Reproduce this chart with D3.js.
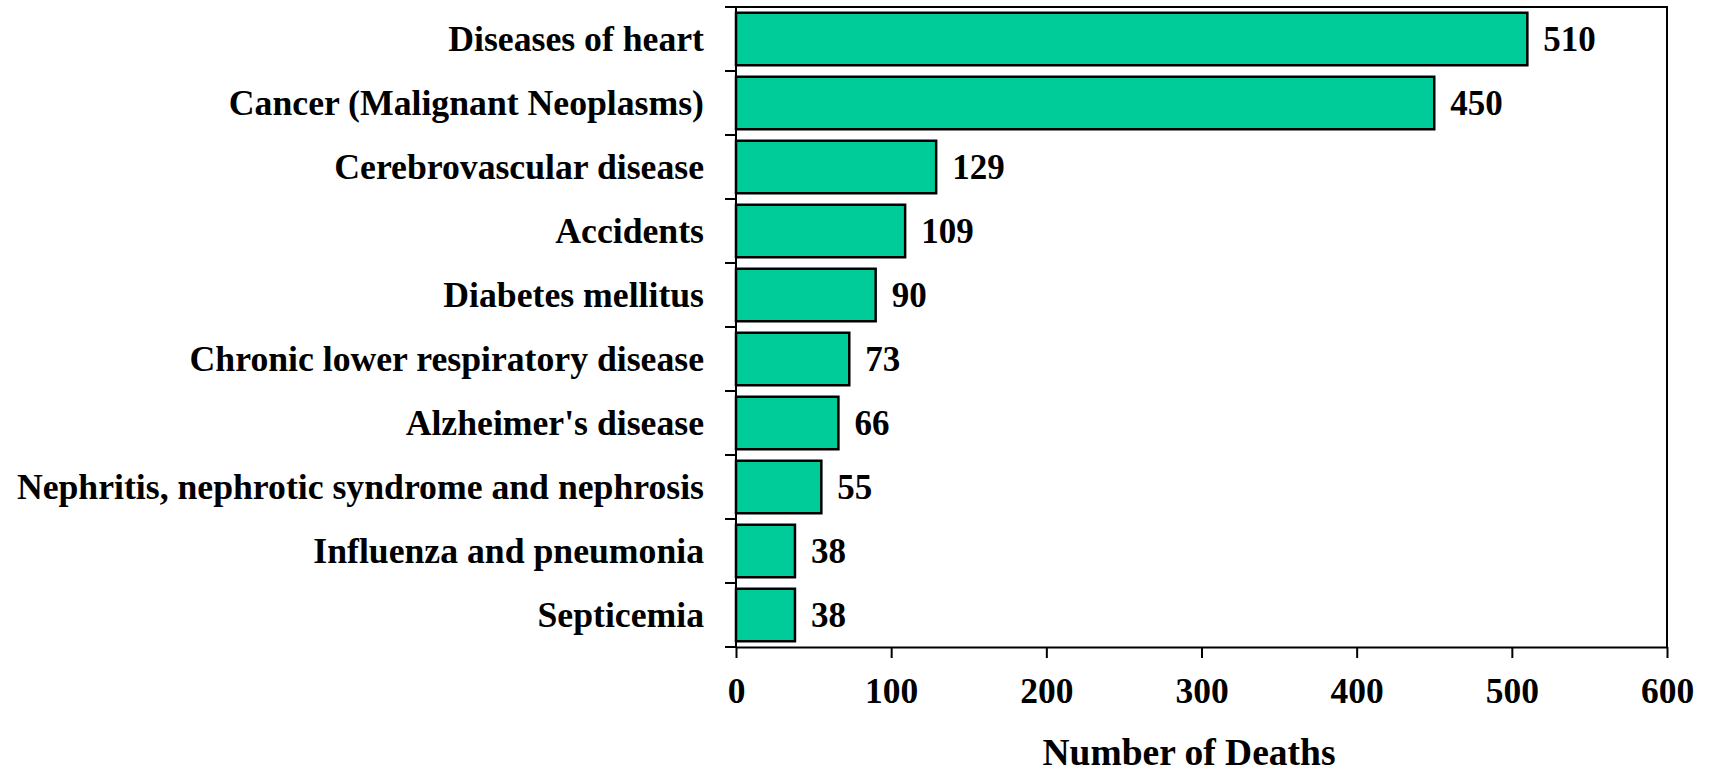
<!DOCTYPE html>
<html>
<head>
<meta charset="utf-8">
<script src="https://cdn.jsdelivr.net/npm/d3@7"></script>
<style>
  body { margin: 0; background: #fff; }
  text { font-family: "Liberation Serif", "Times New Roman", serif; font-weight: bold; fill: #000; }
</style>
</head>
<body>
<svg id="chart"></svg>
<script>
const causes = [
  "Diseases of heart",
  "Cancer (Malignant Neoplasms)",
  "Cerebrovascular disease",
  "Accidents",
  "Diabetes mellitus",
  "Chronic lower respiratory disease",
  "Alzheimer's disease",
  "Nephritis, nephrotic syndrome and nephrosis",
  "Influenza and pneumonia",
  "Septicemia"
];
const deaths = [510, 450, 129, 109, 90, 73, 66, 55, 38, 38];
const xTicks = [0, 100, 200, 300, 400, 500, 600];

const width = 1711;
const height = 774;
const plotLeft = 736;
const plotRight = 1667;
const plotTop = 7;
const plotBottom = 647;

const svg = d3.select("#chart").attr("width", width).attr("height", height);

const xScale = d3.scaleLinear().domain([0, 600]).range([plotLeft, plotRight]);
const yScale = d3.scaleBand().domain(causes).range([plotTop, plotBottom]).paddingInner(0.18).paddingOuter(0.09);

// frame (top and right)
svg.append("path")
  .attr("d", `M${plotLeft},${plotTop}H${plotRight}V${plotBottom}`)
  .attr("fill", "none")
  .attr("stroke", "#000")
  .attr("stroke-width", 2);

// bars
svg.selectAll("rect.bar")
  .data(causes)
  .enter()
  .append("rect")
  .attr("class", "bar")
  .attr("x", xScale(0))
  .attr("y", (d) => yScale(d))
  .attr("width", (d, i) => xScale(deaths[i]) - xScale(0))
  .attr("height", yScale.bandwidth())
  .attr("fill", "#00CC99")
  .attr("stroke", "#000")
  .attr("stroke-width", 2.5);

// value labels
svg.selectAll("text.val")
  .data(causes)
  .enter()
  .append("text")
  .attr("class", "val")
  .attr("x", (d, i) => xScale(deaths[i]) + 16)
  .attr("y", (d) => yScale(d) + yScale.bandwidth() / 2)
  .attr("dy", "0.34em")
  .attr("font-size", 35)
  .text((d, i) => deaths[i]);

// y axis: labels from band scale, ticks on category boundaries
const yAxis = d3.axisLeft(yScale).tickSize(0).tickPadding(32);
const gy = svg.append("g")
  .attr("transform", `translate(${plotLeft},0)`)
  .call(yAxis);
gy.select(".domain").remove();
gy.selectAll("text")
  .attr("font-size", 35.7)
  .attr("dy", "0.34em")
  .style("font-family", "'Liberation Serif', serif")
  .style("font-weight", "bold");

const step = yScale.step();
const bounds = d3.range(causes.length + 1).map((i) => plotTop + i * step);
svg.append("line")
  .attr("x1", plotLeft).attr("x2", plotLeft)
  .attr("y1", plotTop).attr("y2", plotBottom)
  .attr("stroke", "#000").attr("stroke-width", 2);
svg.selectAll("line.ytick")
  .data(bounds)
  .enter()
  .append("line")
  .attr("class", "ytick")
  .attr("x1", plotLeft - 11).attr("x2", plotLeft)
  .attr("y1", (d) => d).attr("y2", (d) => d)
  .attr("stroke", "#000").attr("stroke-width", 2);

// x axis
const xAxis = d3.axisBottom(xScale).tickValues(xTicks).tickSize(11).tickPadding(20).tickSizeOuter(0);
const gx = svg.append("g")
  .attr("transform", `translate(0,${plotBottom})`)
  .call(xAxis);
gx.select(".domain").attr("stroke-width", 2);
gx.selectAll(".tick line").attr("stroke-width", 2);
gx.selectAll("text")
  .attr("font-size", 35.5)
  .style("font-family", "'Liberation Serif', serif")
  .style("font-weight", "bold");

// axis title
svg.append("text")
  .attr("x", 1189)
  .attr("y", 765)
  .attr("text-anchor", "middle")
  .attr("font-size", 37.5)
  .text("Number of Deaths");
</script>
</body>
</html>
